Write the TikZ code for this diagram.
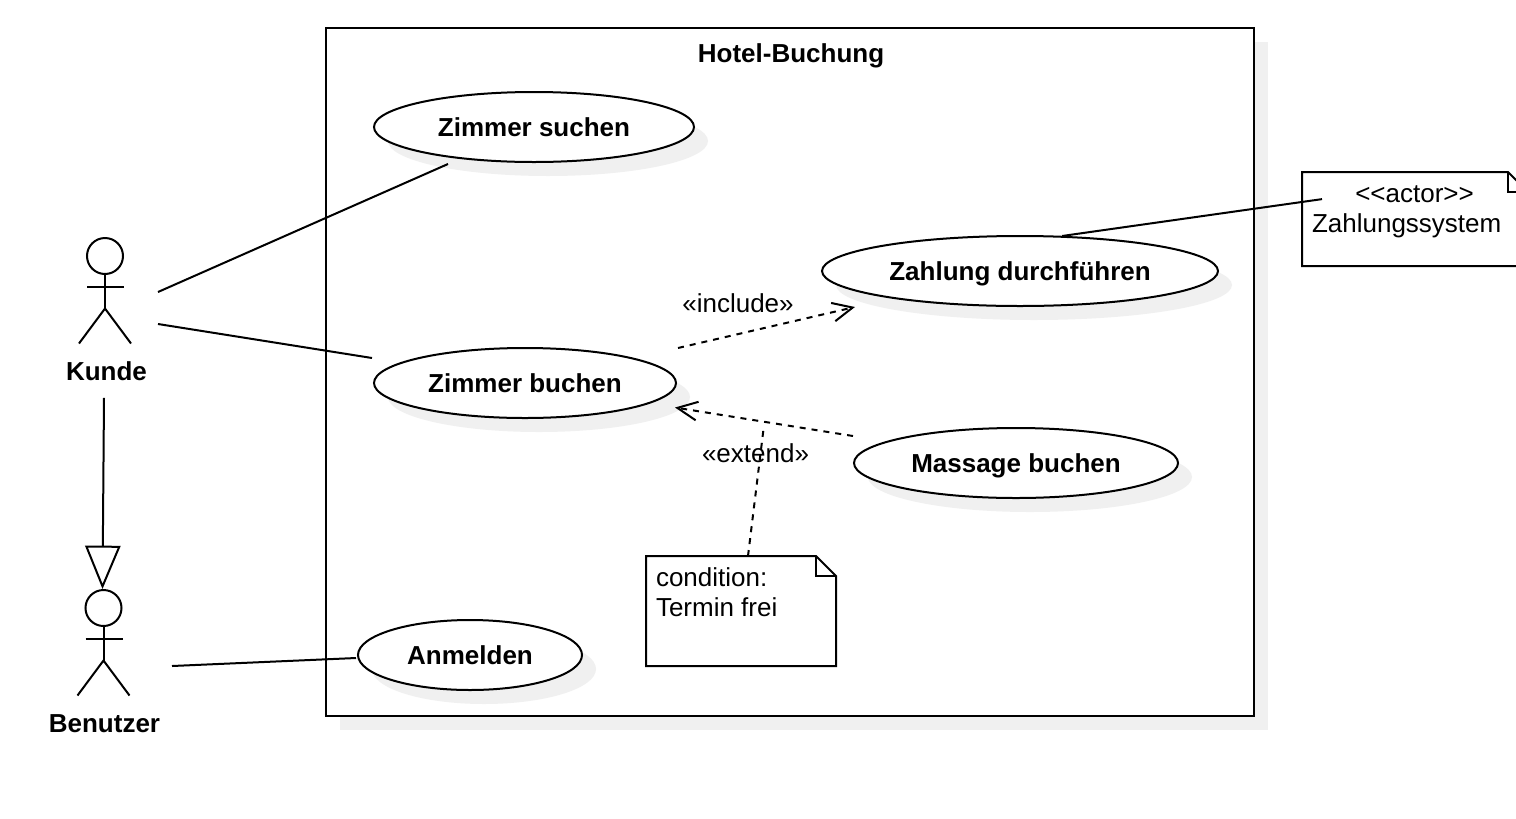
\documentclass[tikz,border=0pt]{standalone}
\usepackage{fontspec}
\setmainfont{Liberation Sans}
\usetikzlibrary{arrows.meta,shadows,shapes.geometric}
\definecolor{shadowgray}{HTML}{F0F0F0}
\tikzset{
  bold/.style={font=\fontsize{19.5}{22.5}\selectfont\bfseries,text height=14.2pt,text depth=0pt},
  plain/.style={font=\fontsize{19.5}{22.5}\selectfont},
  usecase/.style={bold,ellipse,draw,fill=white,inner sep=0pt,minimum height=52.5pt,
    drop shadow={shadow xshift=10.5pt,shadow yshift=-10.5pt,fill=shadowgray,opacity=1}},
  notebox/.style={plain,anchor=north west,align=left,inner sep=0pt},
  head/.style={circle,draw,inner sep=0pt,minimum size=27pt},
  dep/.style={dash pattern=on 4.5pt off 4.5pt,-{Straight Barb[length=15pt,width=14pt]}},
  gen/.style={-{Triangle[open,fill=white,length=32.5pt,width=26.5pt]}}
}
\newcommand{\stick}[1]{
  \draw (#1.south) -- ++(0,33.5) coordinate (#1_hip) ++(-18,-22) -- ++(37,0);
  \draw (#1_hip) ++(-26,35) -- (#1_hip) -- ++(26,35);
}
\begin{document}
\begin{tikzpicture}[x=0.75pt,y=-0.75pt,line width=1.5pt]
  \useasboundingbox (0,0) rectangle (1516,818);
  % system boundary
  \node[draw,fill=white,inner sep=0pt,minimum width=696pt,minimum height=516pt,
    drop shadow={shadow xshift=10.5pt,shadow yshift=-10.5pt,fill=shadowgray,opacity=1}] (hotel) at (790,372) {};
  \node[bold] (hotel_title) at (791,53) {Hotel-Buchung};

  % use cases
  \node[usecase,minimum width=240pt] (suchen) at (534,127) {Zimmer suchen};
  \node[usecase,minimum width=226.5pt] (buchen) at (525,383) {Zimmer buchen};
  \node[usecase,minimum width=297pt] (zahlung) at (1020,271) {Zahlung durchführen};
  \node[usecase,minimum width=243pt] (massage) at (1016,463) {Massage buchen};
  \node[usecase,minimum width=168pt] (anmelden) at (470,655) {Anmelden};

  % actors
  \node[head] (kunde) at (105,256) {};
  \stick{kunde}
  \node[bold] (kunde_label) at (106.5,371) {Kunde};
  \node[head] (benutzer) at (103.5,608) {};
  \stick{benutzer}
  \node[bold] (benutzer_label) at (104.5,723.5) {Benutzer};

  % notes
  \node[notebox] (cond) at (655,567) {condition:\\Termin frei};
  \draw (646,556) -- ++(170,0) -- ++(20,20) -- ++(0,90) -- ++(-190,0) -- cycle;
  \draw (816,556) -- ++(0,20) -- ++(20,0);
  \node[plain] (actor_tag) at (1414.5,194) {<{}<actor>{}>};
  \node[notebox] (zahlsys) at (1311,213) {Zahlungssystem};
  \draw (1302,172) -- ++(206,0) -- ++(20,20) -- ++(0,74) -- ++(-226,0) -- cycle;
  \draw (1508,172) -- ++(0,20) -- ++(20,0);

  % associations
  \draw ([shift={(-86,37)}]suchen.center) -- ([shift={(53,36)}]kunde.center);
  \draw ([shift={(-153,-25)}]buchen.center) -- ([shift={(53,68)}]kunde.center);
  \draw ([shift={(-114,3)}]anmelden.center) -- ([shift={(68.5,58)}]benutzer.center);
  \draw ([shift={(42,-35)}]zahlung.center) -- ([shift={(11,-27)}]zahlsys.west);
  \draw[gen] ([shift={(-2.5,12)}]kunde_label.south) -- ([shift={(-1,-19)}]benutzer.center);

  % dependencies
  \draw[dep] ([shift={(153,-35)}]buchen.center) -- ([shift={(-165,36)}]zahlung.center);
  \node[plain] (include_label) at (738,303) {«include»};
  \draw[dep] ([shift={(-163,-27)}]massage.center) -- ([shift={(150,24.5)}]buchen.center);
  \draw[dash pattern=on 4.5pt off 4.5pt] ([shift={(93,-11)}]cond.north west) -- ([shift={(-252,-38)}]massage.center);
  \node[plain] (extend_label) at (755.5,453) {«extend»};
\end{tikzpicture}
\end{document}
